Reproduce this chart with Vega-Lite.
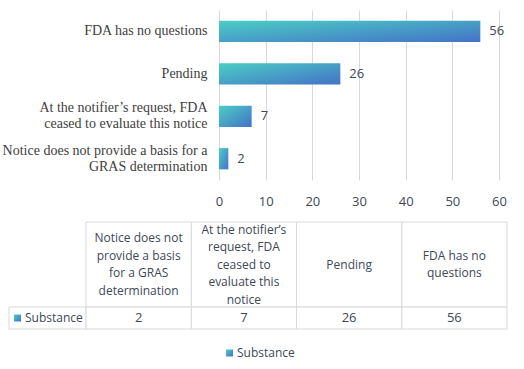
{
  "$schema": "https://vega.github.io/schema/vega-lite/v6.json",
  "padding": {"left": 2, "top": 10, "right": 5, "bottom": 0},
  "background": "white",
  "config": {"view": {"stroke": null}, "font": "Open Sans"},
  "datasets": {
    "status": [
      {"status": "FDA has no questions", "count": 56},
      {"status": "Pending", "count": 26},
      {"status": "At the notifier’s request, FDA ceased to evaluate this notice", "count": 7},
      {"status": "Notice does not provide a basis for a GRAS determination", "count": 2}
    ],
    "series": [{"series": "Substance"}]
  },
  "spacing": 13,
  "resolve": {"scale": {"x": "independent", "y": "independent"}},
  "vconcat": [
    {
      "width": 498,
      "height": 170,
      "data": {"name": "status"},
      "encoding": {
        "y": {
          "field": "status", "type": "nominal",
          "sort": {"field": "count", "order": "descending"},
          "scale": {"paddingInner": 0.5, "paddingOuter": 0.25},
          "axis": {
            "title": null, "domain": false, "ticks": false, "offset": -210,
            "labelFont": "Liberation Serif", "labelFontSize": 14, "labelColor": "#404040",
            "labelPadding": 12, "labelLimit": 0, "labelLineHeight": 16,
            "labelOffset": {"condition": {"test": "indexof(datum.value, 'At the') == 0 || indexof(datum.value, 'Notice does') == 0", "value": -8}, "value": 0},
            "labelExpr": "indexof(datum.value, 'At the') == 0 ? ['At the notifier’s request, FDA', 'ceased to evaluate this notice'] : indexof(datum.value, 'Notice does') == 0 ? ['Notice does not provide a basis for a', 'GRAS determination'] : datum.value"
          }
        },
        "x": {
          "field": "count", "type": "quantitative",
          "scale": {"domain": [0, 60], "nice": false, "range": [210, 490]},
          "axis": {
            "title": null, "values": [0, 10, 20, 30, 40, 50, 60],
            "domain": false, "ticks": false, "grid": true, "gridColor": "#D9D9D9",
            "labelFont": "Open Sans", "labelFontSize": 13, "labelColor": "#404858",
            "labelPadding": 15, "labelFlush": false
          }
        }
      },
      "layer": [
        {
          "mark": {
            "type": "bar",
            "color": {
              "gradient": "linear", "x1": 0, "y1": 0, "x2": 1, "y2": 1,
              "stops": [{"offset": 0, "color": "#4BCEC5"}, {"offset": 1, "color": "#4472C7"}]
            }
          }
        },
        {
          "mark": {"type": "text", "align": "left", "baseline": "middle", "dx": 9, "font": "Open Sans", "fontSize": 13, "color": "#404858"},
          "encoding": {"text": {"field": "count", "type": "quantitative"}}
        }
      ]
    },
    {
      "columns": 2,
      "spacing": 0,
      "align": "each",
      "bounds": "flush",
      "resolve": {"scale": {"x": "independent", "y": "independent"}},
      "concat": [
        {
          "width": 77, "height": 85,
          "data": {"name": "series"},
          "mark": {"type": "rect", "fill": "white", "opacity": 0},
          "encoding": {
            "x": {"field": "series", "type": "nominal", "axis": null, "scale": {"paddingInner": 0, "paddingOuter": 0}},
            "y": {"field": "series", "type": "nominal", "axis": null, "scale": {"paddingInner": 0, "paddingOuter": 0}}
          }
        },
        {
          "width": 421, "height": 85,
          "data": {"name": "status"},
          "transform": [
            {"calculate": "datum.status == 'FDA has no questions' ? 'FDA has no\\nquestions' : datum.status == 'Pending' ? 'Pending' : indexof(datum.status, 'At the') == 0 ? 'At the notifier’s\\nrequest, FDA\\nceased to\\nevaluate this\\nnotice' : 'Notice does not\\nprovide a basis\\nfor a GRAS\\ndetermination'", "as": "label"}
          ],
          "encoding": {
            "x": {"field": "status", "type": "nominal", "sort": {"field": "count", "order": "ascending"}, "axis": null, "scale": {"paddingInner": 0, "paddingOuter": 0}},
            "y": {"datum": "header", "type": "nominal", "axis": null, "scale": {"paddingInner": 0, "paddingOuter": 0}}
          },
          "layer": [
            {"mark": {"type": "rect", "fill": "white", "stroke": "#D9D9D9", "strokeWidth": 1}},
            {
              "mark": {
                "type": "text", "lineBreak": "\n", "lineHeight": 17.5, "align": "center", "baseline": "middle", "fontSize": 12, "color": "#404858",
                "dy": {"expr": "-(length(split(datum.label, '\\n')) - 1) * 8.75"}
              },
              "encoding": {"text": {"field": "label", "type": "nominal"}}
            }
          ]
        },
        {
          "width": 77, "height": 22,
          "data": {"name": "series"},
          "encoding": {
            "x": {"field": "series", "type": "nominal", "axis": null, "scale": {"paddingInner": 0, "paddingOuter": 0}},
            "y": {"field": "series", "type": "nominal", "axis": null, "scale": {"paddingInner": 0, "paddingOuter": 0}}
          },
          "layer": [
            {"mark": {"type": "rect", "fill": "white", "stroke": "#D9D9D9", "strokeWidth": 1}},
            {
              "mark": {
                "type": "square", "size": 49, "filled": true, "opacity": 1, "xOffset": -30,
                "color": {
                  "gradient": "linear", "x1": 0, "y1": 0, "x2": 1, "y2": 1,
                  "stops": [{"offset": 0, "color": "#4BCEC5"}, {"offset": 1, "color": "#4472C7"}]
                }
              }
            },
            {
              "mark": {"type": "text", "align": "left", "baseline": "middle", "dx": -22.5, "fontSize": 12, "color": "#404858"},
              "encoding": {"text": {"field": "series", "type": "nominal"}}
            }
          ]
        },
        {
          "width": 421, "height": 22,
          "data": {"name": "status"},
          "encoding": {
            "x": {"field": "status", "type": "nominal", "sort": {"field": "count", "order": "ascending"}, "axis": null, "scale": {"paddingInner": 0, "paddingOuter": 0}},
            "y": {"datum": "Substance", "type": "nominal", "axis": null, "scale": {"paddingInner": 0, "paddingOuter": 0}}
          },
          "layer": [
            {"mark": {"type": "rect", "fill": "white", "stroke": "#D9D9D9", "strokeWidth": 1}},
            {
              "mark": {"type": "text", "align": "center", "baseline": "middle", "fontSize": 13, "color": "#404858"},
              "encoding": {"text": {"field": "count", "type": "quantitative"}}
            }
          ]
        }
      ]
    },
    {
      "width": 498, "height": 20,
      "data": {"name": "series"},
      "encoding": {
        "x": {"field": "series", "type": "nominal", "axis": null, "scale": {"paddingInner": 0, "paddingOuter": 0}},
        "y": {"field": "series", "type": "nominal", "axis": null, "scale": {"paddingInner": 0, "paddingOuter": 0}}
      },
      "layer": [
        {
          "mark": {
            "type": "square", "size": 49, "filled": true, "opacity": 1, "xOffset": -28.5,
            "color": {
              "gradient": "linear", "x1": 0, "y1": 0, "x2": 1, "y2": 1,
              "stops": [{"offset": 0, "color": "#4BCEC5"}, {"offset": 1, "color": "#4472C7"}]
            }
          }
        },
        {
          "mark": {"type": "text", "align": "left", "baseline": "middle", "dx": -21, "fontSize": 12, "color": "#404858"},
          "encoding": {"text": {"field": "series", "type": "nominal"}}
        }
      ]
    }
  ]
}
